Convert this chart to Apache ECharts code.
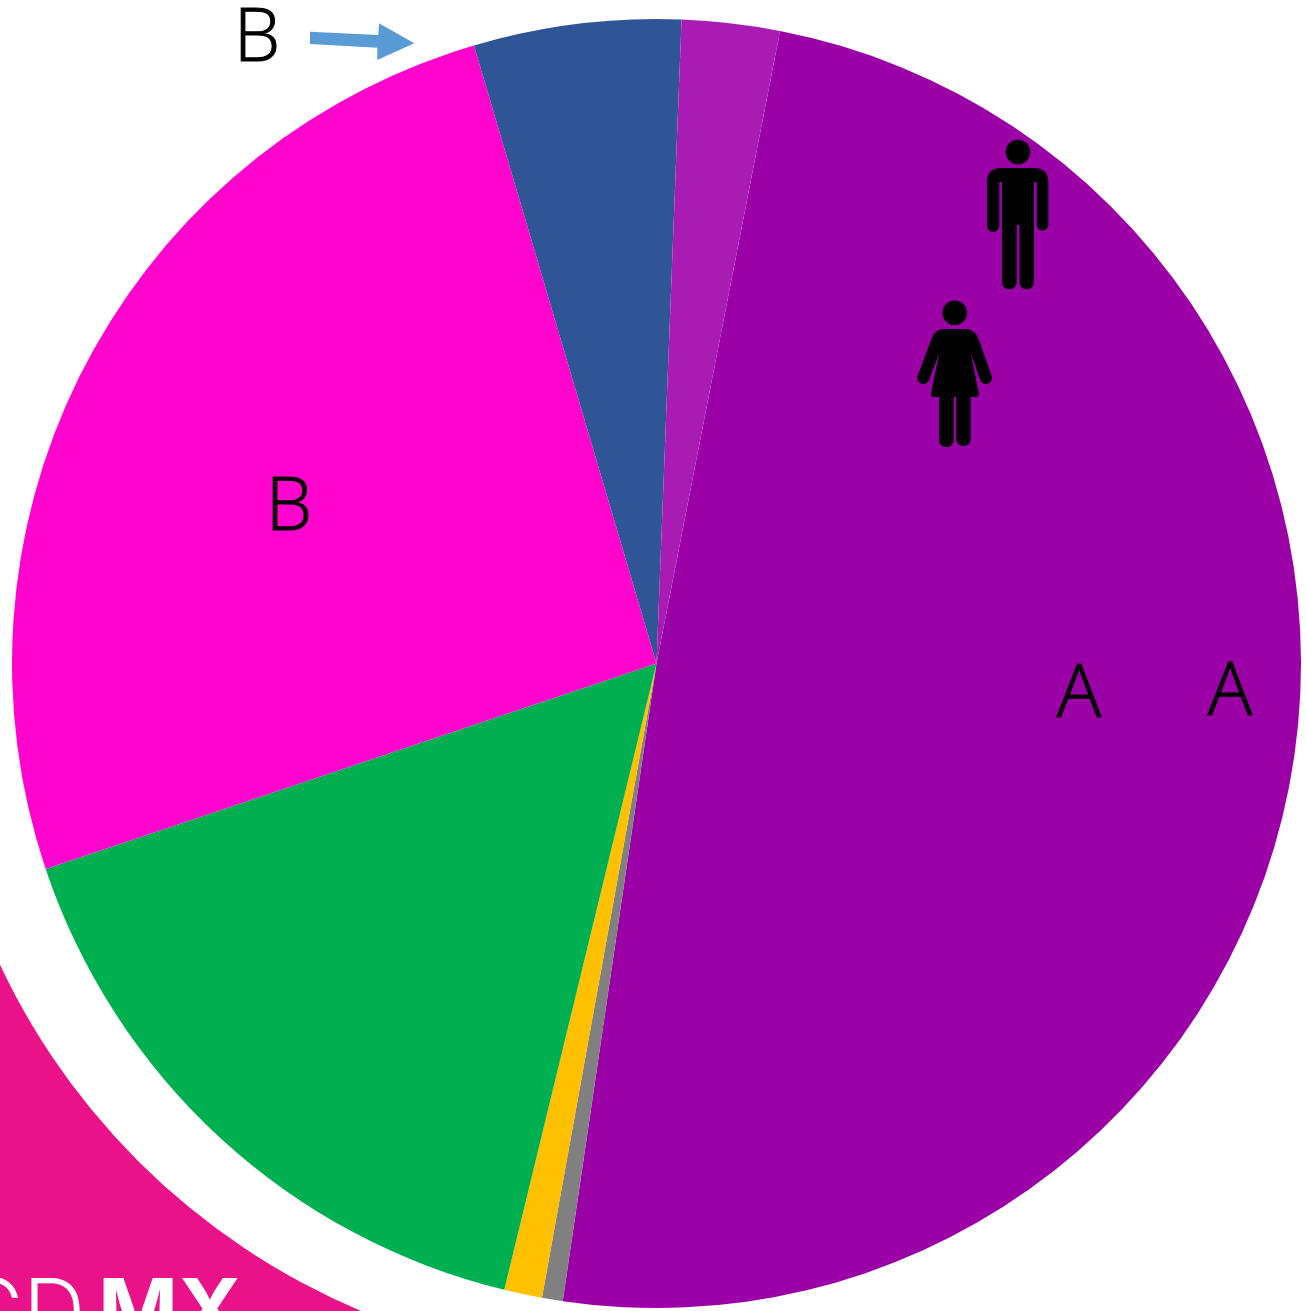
<!DOCTYPE html>
<html>
<head>
<meta charset="utf-8">
<style>
  html, body { margin: 0; padding: 0; background: #fff; }
  #main { width: 1307px; height: 1311px; }
</style>
<script src="https://cdn.jsdelivr.net/npm/echarts@6/dist/echarts.min.js"></script>
</head>
<body>
<div id="main"></div>
<script>
// shares, clockwise from the big purple slice
var sliceNames = ['A', 'gray', 'orange', 'green', 'B', 'B small', 'A small'];
var sliceValues = [49.25, 0.52, 0.95, 16.04, 25.59, 5.19, 2.45];
var sliceColors = ['#9b00a7', '#808080', '#ffc000', '#00b050', '#ff04cc', '#2f5597', '#a81cb4'];

var manPath = 'M1001 168H1034Q1048.3 168 1048.3 182V226A6 6 0 0 1 1036.7 226V182H1034V282A7.3 7.3 0 0 1 1019.4 282V225H1016.7V282A7.3 7.3 0 0 1 1002 282V182H999.3V226A6 6 0 0 1 987 226V182Q987 168 1001 168Z';
var womanPath = 'M943 329H966Q975 329 979 340L991.6 375.8A6 6 0 0 1 980.4 380.2L970.7 353L978.7 393Q979 397 976 397H970.7V440A7.3 7.3 0 0 1 956.3 440V397H953.7V440A7.3 7.3 0 0 1 939 440V397H933Q930.5 397 931 393L939.3 353L928.9 380.2A6 6 0 0 1 917.7 375.8L931 340Q935 329 943 329Z';

// graphic component has no plain path type, so register the two figures as shapes
echarts.graphic.registerShape('manIcon', echarts.graphic.extendPath(manPath));
echarts.graphic.registerShape('womanIcon', echarts.graphic.extendPath(womanPath));

function label(text, x, y) {
  return {
    type: 'text', z: 10,
    style: {
      text: text, x: x, y: y, fill: '#000', font: '300 74px "Open Sans"',
      stroke: '#000', lineWidth: 1, lineJoin: 'round',
      align: 'center', verticalAlign: 'middle'
    }
  };
}

var myChart = echarts.init(document.getElementById('main'));
var option = {
  animation: false,
  backgroundColor: '#fff',
  series: [{
    type: 'pie',
    center: [656.5, 663.5],
    radius: [0, 644.5],
    startAngle: 78.95,
    clockwise: true,
    silent: true,
    label: { show: false },
    labelLine: { show: false },
    data: sliceNames.map(function (name, i) {
      return { name: name, value: sliceValues[i], itemStyle: { color: sliceColors[i] } };
    })
  }],
  graphic: [
    // pink corner with the white disc cut over it
    { type: 'rect', z: 0, shape: { x: 0, y: 900, width: 420, height: 411 }, style: { fill: '#e91289' } },
    { type: 'circle', z: 0, shape: { cx: 633, cy: 666, r: 700 }, style: { fill: '#fff' } },
    { type: 'text', z: 1, style: { text: 'CD', x: 85, y: 1272, fill: '#fff', font: '300 86px Inter', align: 'right', verticalAlign: 'top' } },
    { type: 'text', z: 1, style: { text: 'MX', x: 98, y: 1272, fill: '#fff', font: '700 86px Inter', align: 'left', verticalAlign: 'top' } },
    label('A', 1079, 696),
    label('A', 1230, 694),
    label('B', 289, 509),
    label('B', 257, 40),
    { type: 'polygon', z: 10, shape: { points: [[310, 31.7], [378.3, 35], [379, 23.3], [414.3, 43.3], [377.3, 60], [377.3, 47.7], [310, 44]] }, style: { fill: '#5b9bd5' } },
    { type: 'circle', z: 10, shape: { cx: 1018, cy: 152, r: 12.3 }, style: { fill: '#000' } },
    { type: 'manIcon', z: 10, style: { fill: '#000' } },
    { type: 'circle', z: 10, shape: { cx: 954.7, cy: 312.7, r: 12.3 }, style: { fill: '#000' } },
    { type: 'womanIcon', z: 10, style: { fill: '#000' } }
  ]
};
myChart.setOption(option);
</script>
</body>
</html>
